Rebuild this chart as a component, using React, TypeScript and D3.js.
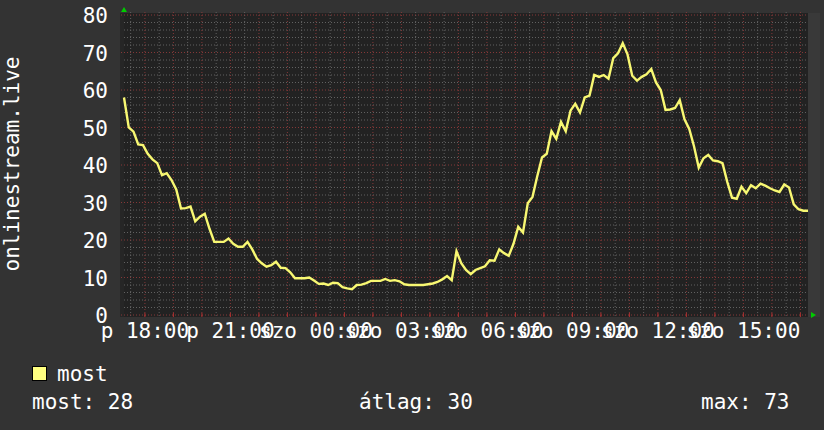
import React from "react";
import * as d3 from "d3";

// ---- data ----
const startTime = new Date(2024, 2, 1, 17, 16); // Friday 17:16
const stepMinutes = 10;
const values: number[] = [
  58, 50, 48.9, 45.5, 45.3, 43, 41.5, 40.5, 37.3, 37.8,
  36, 33.5, 28.4, 28.5, 28.9, 25, 26.2, 27, 23, 19.5,
  19.5, 19.5, 20.4, 19, 18.2, 18.2, 19.5, 17.5, 15, 13.8,
  12.9, 13.3, 14.2, 12.6, 12.5, 11.4, 9.8, 9.8, 9.8, 10,
  9.2, 8.3, 8.4, 8, 8.6, 8.5, 7.4, 7.1, 6.9, 8,
  8.1, 8.5, 9.1, 9.1, 9.1, 9.6, 9.1, 9.3, 9, 8.2,
  8, 8, 8, 8, 8.2, 8.4, 8.8, 9.5, 10.4, 9.3,
  17, 13.8, 12, 10.9, 12, 12.5, 13, 14.6, 14.5, 17.5,
  16.5, 15.8, 19, 23.5, 22, 29.8, 31.5, 37, 42, 43,
  49, 47, 51.5, 49, 54.5, 56.3, 54, 58, 58.5, 64,
  63.5, 64, 63, 68.5, 69.8, 72.5, 69.5, 63.8, 62.5, 63.5,
  64.2, 65.6, 62, 60, 54.7, 54.8, 55.2, 57.3, 52.2, 49.6,
  45, 39.3, 41.8, 42.7, 41.2, 41, 40.5, 35.5, 31.3, 31,
  34.2, 32.5, 34.6, 33.8, 35, 34.5, 33.8, 33.2, 32.8, 34.8,
  34, 29.5, 28.2, 27.8, 27.8,
];
const yTicks = [0, 10, 20, 30, 40, 50, 60, 70, 80];
const dayNames = ["v", "h", "k", "sze", "cs", "p", "szo"];
const yTitle = "onlinestream.live";
const legendName = "most";
const statLabels = ["most: 28", "átlag: 30", "max: 73"];

// ---- layout ----
const W = 824, H = 430;
const X0 = 124, X1 = 808;
const Y0 = 315, Y1 = 15;
const FONT = "'DejaVu Sans Mono', monospace";
const FS = 21;

export default function App() {
  const endTime = d3.timeHour.offset(startTime, 24);
  const x = d3.scaleTime().domain([startTime, endTime]).range([X0, X1]);
  const y = d3.scaleLinear().domain([0, 80]).range([Y0, Y1]);
  const pts = values.map((v, i) => ({ t: d3.timeMinute.offset(startTime, i * stepMinutes), v }));
  const line = d3.line<{ t: Date; v: number }>().x(d => x(d.t)).y(d => y(d.v)).curve(d3.curveLinear);

  const minorX = d3.timeMinute.every(30)!.range(startTime, endTime);
  const majorX = d3.timeHour.every(1)!.range(startTime, endTime);
  const labelX = d3.timeHour.every(3)!.range(startTime, endTime);
  const minorY = d3.range(0, 81, 2);
  const fmt = d3.timeFormat("%H:%M");

  return (
    <svg width={W} height={H} style={{ position: "absolute", left: 0, top: 0, background: "#333333" }}>
      <rect x={0} y={0} width={W} height={H} fill="#333333" />
      <rect x={X1} y={Y1 - 2} width={12} height={Y0 - Y1 + 4} fill="#393939" />
      <rect x={X0 - 4} y={Y1 - 2} width={X1 - X0 + 4} height={Y0 - Y1 + 4} fill="#262626" />
      <rect x={X0} y={Y1 - 2} width={X1 - X0} height={Y0 - Y1 + 4} fill="#222222" />
      {/* minor grid */}
      {minorY.filter(v => v % 10 !== 0).map(v => (
        <line key={"my" + v} x1={X0} x2={X1} y1={y(v)} y2={y(v)} stroke="#616161" strokeDasharray="1,2" />
      ))}
      {minorX.filter(t => t.getMinutes() !== 0).map((t, i) => (
        <line key={"mx" + i} x1={x(t)} x2={x(t)} y1={Y1 - 3} y2={Y0 + 2} stroke="#616161" strokeDasharray="1,2" />
      ))}
      {/* major grid */}
      {yTicks.map(v => (
        <line key={"My" + v} x1={X0 - 3} x2={X1} y1={y(v)} y2={y(v)} stroke="#853838" strokeDasharray="1,2" />
      ))}
      {majorX.map((t, i) => (
        <line key={"Mx" + i} x1={x(t)} x2={x(t)} y1={Y1 - 3} y2={Y0 + 2} stroke="#853838" strokeDasharray="1,2" />
      ))}
      {/* small ticks at the bottom */}
      {majorX.map((t, i) => (
        <line key={"tk" + i} x1={x(t)} x2={x(t)} y1={Y0 - 2} y2={Y0 + 2} stroke="#b03030" />
      ))}
      {/* data line */}
      <path d={line(pts) || ""} fill="none" stroke="#f8f872" strokeWidth={2.4} strokeLinejoin="miter" />
      {/* arrows */}
      <path d={`M${X0 - 3},${Y1 - 3} L${X0 + 3},${Y1 - 3} L${X0},${Y1 - 8} Z`} fill="#00cc00" />
      <path d={`M${X1 + 3},${Y0 - 3} L${X1 + 3},${Y0 + 3} L${X1 + 8},${Y0} Z`} fill="#00cc00" />
      {/* y labels */}
      {yTicks.map(v => (
        <text key={"yl" + v} x={108} y={y(v) + 8} textAnchor="end" fill="#ffffff" fontFamily={FONT} fontSize={FS}>{v}</text>
      ))}
      {/* x labels */}
      {labelX.map((t, i) => (
        <text key={"xl" + i} x={x(t)} y={338} textAnchor="middle" fill="#ffffff" fontFamily={FONT} fontSize={FS}>
          {dayNames[t.getDay()] + " " + fmt(t)}
        </text>
      ))}
      {/* y title */}
      <text transform="translate(18.5,164) rotate(-90)" textAnchor="middle" fill="#ffffff" fontFamily={FONT} fontSize={FS}>{yTitle}</text>
      {/* legend */}
      <rect x={32.5} y={366.5} width={14} height={14} fill="#ffff80" stroke="#000000" />
      <text x={57} y={381} fill="#ffffff" fontFamily={FONT} fontSize={FS}>{legendName}</text>
      <text x={32} y={409} fill="#ffffff" fontFamily={FONT} fontSize={FS}>{statLabels[0]}</text>
      <text x={359} y={409} fill="#ffffff" fontFamily={FONT} fontSize={FS}>{statLabels[1]}</text>
      <text x={701} y={409} fill="#ffffff" fontFamily={FONT} fontSize={FS}>{statLabels[2]}</text>
    </svg>
  );
}
